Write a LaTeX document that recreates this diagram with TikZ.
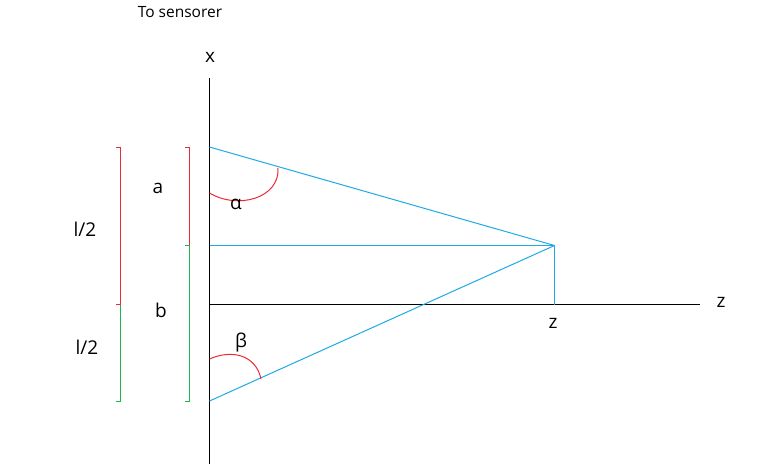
\documentclass[tikz,border=0pt]{standalone}
\usepackage{fontspec}
\setmainfont{Open Sans}
\definecolor{lineblue}{RGB}{30,170,230}
\definecolor{markred}{RGB}{240,40,50}
\definecolor{markgreen}{RGB}{30,180,80}
\begin{document}
\begin{tikzpicture}[x=1pt, y=-1pt, font=\fontsize{19}{22}\selectfont, line width=1pt]
  \useasboundingbox (0,0) rectangle (766,464);
  % punkter
  \coordinate (xtop) at (209.5,78);
  \coordinate (xbot) at (209.5,464);
  \coordinate (O) at (209.5,304.5);
  \coordinate (zend) at (700,304.5);
  \coordinate (A) at (209.5,147);
  \coordinate (M) at (209.5,245.5);
  \coordinate (B) at (209.5,401);
  \coordinate (P) at (554.5,245.5);
  \coordinate (Pz) at (554.5,304.5);

  % akser
  \draw (xtop) -- (xbot);
  \draw (O) -- (zend);
  \node (xlab) at (210,57) {x};
  \node (zlab) at (721,302) {z};
  \node (title) at (180,12) {\fontsize{15.5}{18}\selectfont To sensorer};

  % linjer til punktet
  \draw[lineblue] (A) -- (P);
  \draw[lineblue] (M) -- (P);
  \draw[lineblue] (B) -- (P);
  \draw[lineblue] (P) -- (Pz);
  \node (zpos) at (553,323) {z};

  % vinkler
  \draw[markred] (209.5,193) .. controls (238,210) and (280,198) .. (278,168);
  \node (alpha) at (236,204) {α};
  \draw[markred] (209.5,359) .. controls (232,349) and (256,355) .. (261,379);
  \node (beta) at (241,343) {β};

  % klammer
  \begin{scope}[line width=1.3pt]
    \draw[markred] (116,147.5) -- (120.5,147.5) -- (120.5,304.5) -- (116,304.5);
    \draw[markgreen] (120.5,305) -- (120.5,401.5) -- (116,401.5);
    \draw[markred] (185,147.5) -- (189.5,147.5) -- (189.5,245);
    \draw[markgreen] (185,245.5) -- (189.5,245.5) -- (189.5,401.5) -- (185,401.5);
  \end{scope}
  \node (half1) at (85,229) {l/2};
  \node (half2) at (87,347) {l/2};
  \node (alab) at (158,188) {a};
  \node (blab) at (161,310) {b};
\end{tikzpicture}
\end{document}
